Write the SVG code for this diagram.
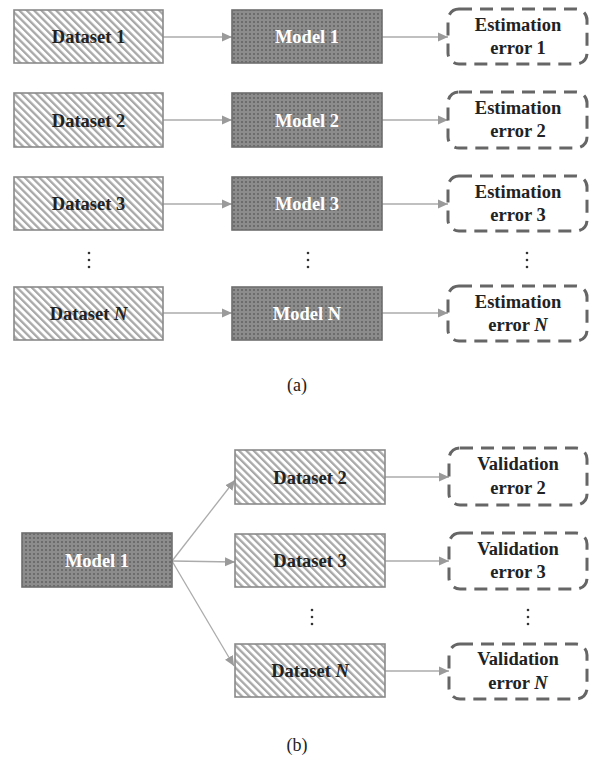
<svg xmlns="http://www.w3.org/2000/svg" width="593" height="761" viewBox="0 0 593 761">
<defs>
<pattern id="hatch" patternUnits="userSpaceOnUse" width="5.2" height="10" patternTransform="rotate(-45)">
<rect width="5.2" height="10" fill="#ffffff"/>
<rect width="2.3" height="10" fill="#a8a8a8"/>
</pattern>
<pattern id="dots" patternUnits="userSpaceOnUse" width="4" height="4">
<rect width="4" height="4" fill="#8c8c8c"/>
<rect x="1.4" y="1.4" width="1.2" height="1.2" fill="#333333"/>
</pattern>
<marker id="arr" markerUnits="userSpaceOnUse" markerWidth="11" markerHeight="10" refX="10" refY="5" orient="auto">
<path d="M0,0.5 L10,5 L0,9.5 Z" fill="#9a9a9a"/>
</marker>
</defs>
<style>
.ds{fill:url(#hatch);stroke:#8a8a8a;stroke-width:1.6}
.md{fill:url(#dots);stroke:#6e6e6e;stroke-width:1.6}
.er{fill:#ffffff;stroke:#666666;stroke-width:3;stroke-dasharray:13 8}
.t{font-family:"Liberation Serif","Times New Roman",serif;font-weight:bold;font-size:18.5px;text-anchor:middle;fill:#222222}
.w{fill:#ffffff}
.c{font-family:"Liberation Serif","Times New Roman",serif;font-size:18px;text-anchor:middle;fill:#222222}
.cn line{stroke:#ababab;stroke-width:1.3;marker-end:url(#arr)}
.dot{fill:#333333}
</style>
<rect width="593" height="761" fill="#ffffff"/>

<g id="connectors" class="cn">
<line x1="163" y1="37" x2="232" y2="37"/>
<line x1="382" y1="37" x2="448" y2="37"/>
<line x1="163" y1="120" x2="232" y2="120"/>
<line x1="382" y1="120" x2="448" y2="120"/>
<line x1="163" y1="204" x2="232" y2="204"/>
<line x1="382" y1="204" x2="448" y2="204"/>
<line x1="163" y1="313" x2="232" y2="313"/>
<line x1="382" y1="313" x2="448" y2="313"/>
<line x1="172" y1="561" x2="235" y2="480"/>
<line x1="172" y1="561" x2="235" y2="562"/>
<line x1="172" y1="561" x2="234" y2="666"/>
<line x1="385" y1="477" x2="449" y2="477"/>
<line x1="385" y1="561" x2="449" y2="561"/>
<line x1="385" y1="671" x2="449" y2="671"/>
</g>

<g id="a-dataset1"><rect class="ds" x="14" y="10" width="149" height="53"/><text class="t" x="88.5" y="43">Dataset 1</text></g>
<g id="a-model1"><rect class="md" x="232" y="10" width="150" height="53"/><text class="t w" x="307" y="43">Model 1</text></g>
<g id="a-error1"><rect class="er" x="448" y="9" width="139" height="55" rx="11"/><text class="t" x="518" y="31">Estimation</text><text class="t" x="518" y="54">error 1</text></g>

<g id="a-dataset2"><rect class="ds" x="14" y="93" width="149" height="54"/><text class="t" x="88.5" y="126.5">Dataset 2</text></g>
<g id="a-model2"><rect class="md" x="232" y="93" width="150" height="54"/><text class="t w" x="307" y="126.5">Model 2</text></g>
<g id="a-error2"><rect class="er" x="448" y="92" width="139" height="56" rx="11"/><text class="t" x="518" y="114">Estimation</text><text class="t" x="518" y="137">error 2</text></g>

<g id="a-dataset3"><rect class="ds" x="14" y="177" width="149" height="53"/><text class="t" x="88.5" y="210">Dataset 3</text></g>
<g id="a-model3"><rect class="md" x="232" y="177" width="150" height="53"/><text class="t w" x="307" y="210">Model 3</text></g>
<g id="a-error3"><rect class="er" x="448" y="176" width="139" height="55" rx="11"/><text class="t" x="518" y="198">Estimation</text><text class="t" x="518" y="221">error 3</text></g>

<g id="a-dots">
<circle class="dot" cx="89" cy="253" r="1.3"/><circle class="dot" cx="89" cy="260" r="1.3"/><circle class="dot" cx="89" cy="267" r="1.3"/>
<circle class="dot" cx="308" cy="253" r="1.3"/><circle class="dot" cx="308" cy="260" r="1.3"/><circle class="dot" cx="308" cy="267" r="1.3"/>
<circle class="dot" cx="527" cy="253" r="1.3"/><circle class="dot" cx="527" cy="260" r="1.3"/><circle class="dot" cx="527" cy="267" r="1.3"/>
</g>

<g id="a-datasetN"><rect class="ds" x="14" y="287" width="149" height="53"/><text class="t" x="88.5" y="320">Dataset <tspan font-style="italic">N</tspan></text></g>
<g id="a-modelN"><rect class="md" x="232" y="287" width="150" height="53"/><text class="t w" x="307" y="320">Model N</text></g>
<g id="a-errorN"><rect class="er" x="448" y="286" width="139" height="55" rx="11"/><text class="t" x="518" y="308">Estimation</text><text class="t" x="518" y="331">error <tspan font-style="italic">N</tspan></text></g>

<text class="c" x="297" y="391">(a)</text>

<g id="b-model1"><rect class="md" x="22" y="533" width="150" height="54"/><text class="t w" x="97" y="566.5">Model 1</text></g>

<g id="b-dataset2"><rect class="ds" x="235" y="450" width="150" height="54"/><text class="t" x="310" y="483.5">Dataset 2</text></g>
<g id="b-error2"><rect class="er" x="449" y="448" width="138" height="57" rx="11"/><text class="t" x="518" y="470">Validation</text><text class="t" x="518" y="494">error 2</text></g>

<g id="b-dataset3"><rect class="ds" x="235" y="534" width="150" height="53"/><text class="t" x="310" y="567">Dataset 3</text></g>
<g id="b-error3"><rect class="er" x="449" y="533" width="138" height="56" rx="11"/><text class="t" x="518" y="555">Validation</text><text class="t" x="518" y="578">error 3</text></g>

<g id="b-dots">
<circle class="dot" cx="312" cy="610" r="1.3"/><circle class="dot" cx="312" cy="617" r="1.3"/><circle class="dot" cx="312" cy="624" r="1.3"/>
<circle class="dot" cx="528" cy="610" r="1.3"/><circle class="dot" cx="528" cy="617" r="1.3"/><circle class="dot" cx="528" cy="624" r="1.3"/>
</g>

<g id="b-datasetN"><rect class="ds" x="235" y="644" width="150" height="53"/><text class="t" x="310" y="677">Dataset <tspan font-style="italic">N</tspan></text></g>
<g id="b-errorN"><rect class="er" x="449" y="644" width="138" height="55" rx="11"/><text class="t" x="518" y="665">Validation</text><text class="t" x="518" y="689">error <tspan font-style="italic">N</tspan></text></g>

<text class="c" x="297" y="751">(b)</text>
</svg>
